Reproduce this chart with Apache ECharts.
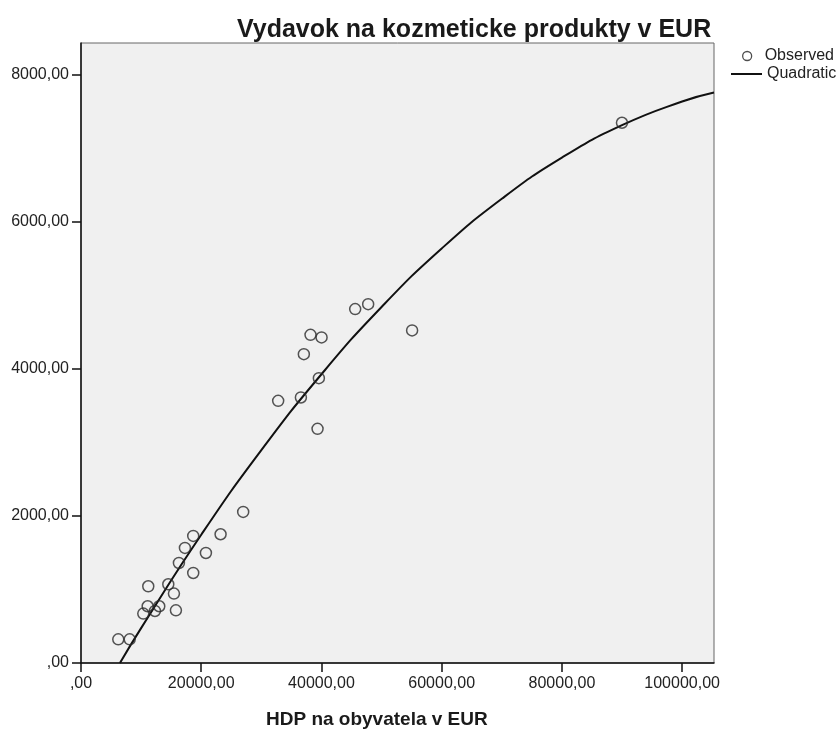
<!DOCTYPE html>
<html>

<head>
	<meta charset="UTF-8">
	<script src="https://cdn.jsdelivr.net/npm/echarts@6/dist/echarts.min.js"></script>
	<style>
		body {
			margin: 0;
			padding: 0;
			background: #ffffff;
		}

		#chart {
			width: 840px;
			height: 729px;
		}
	</style>
</head>

<body>
	<div id="chart"></div>
	<script>
		// 观测值 (HDP na obyvatela, Vydavok)
		var hdp = [6200, 8100, 11190, 11090, 10360, 12300, 13020, 15790, 15460, 14520,
			16290, 17290, 18670, 18670, 20780, 23220, 26980, 32800, 36580, 37070,
			38180, 40020, 39570, 39350, 45610, 47770, 55080, 89990];
		var vydavok = [322, 322, 1044, 772, 672, 708, 772, 717, 945, 1071,
			1361, 1566, 1729, 1225, 1497, 1752, 2056, 3567, 3613, 4202,
			4465, 4430, 3876, 3186, 4815, 4883, 4525, 7351];
		// Quadratic 曲线 (从图上读的点)
		var curveX = [6480, 10000, 20000, 30000, 40000, 50000, 60000, 70000, 80000, 90000, 100000, 105300];
		var curveY = [0, 475, 1745, 2896, 3929, 4844, 5640, 6317, 6877, 7318, 7640, 7763];
		var xTicks = [0, 20000, 40000, 60000, 80000, 100000];
		var yTicks = [0, 2000, 4000, 6000, 8000];

		function fmt(v) {
			return v === 0 ? ',00' : v + ',00';
		}

		var chart = echarts.init(document.getElementById('chart'));
		var font = '"Liberation Sans", Arial, sans-serif';

		chart.setOption({
			animation: false,
			backgroundColor: '#ffffff',
			title: [{
				text: 'Vydavok na kozmeticke produkty v EUR',
				left: 232,
				top: 13,
				textStyle: { fontFamily: font, fontSize: 25, fontWeight: 'bold', color: '#1a1a1a' }
			}, {
				text: 'HDP na obyvatela v EUR',
				left: 261,
				top: 705,
				textStyle: { fontFamily: font, fontSize: 19, fontWeight: 'bold', color: '#1a1a1a' }
			}],
			legend: [{
				data: [{ name: 'Observed', icon: 'circle' }],
				left: 737,
				top: 43,
				itemWidth: 25,
				itemHeight: 9,
				itemStyle: { color: 'rgba(0,0,0,0)', borderColor: '#222', borderWidth: 1.3 },
				textStyle: { fontFamily: font, fontSize: 16, color: '#222' }
			}, {
				data: [{ name: 'Quadratic', icon: 'rect' }],
				left: 726,
				top: 61,
				itemWidth: 31,
				itemHeight: 2,
				itemStyle: { color: '#111', borderWidth: 0 },
				textStyle: { fontFamily: font, fontSize: 16, color: '#222' }
			}],
			grid: {
				left: 81,
				top: 43,
				right: 126,
				bottom: 66,
				show: true,
				backgroundColor: '#f0f0f0',
				borderColor: '#666',
				borderWidth: 1
			},
			xAxis: {
				type: 'value',
				min: 0,
				max: 105300,
				interval: 20000,
				splitLine: { show: false },
				axisLine: { lineStyle: { color: '#111', width: 1.5 } },
				axisTick: { length: 9, customValues: xTicks, lineStyle: { color: '#111', width: 1.5 } },
				axisLabel: {
					customValues: xTicks,
					formatter: fmt,
					margin: 13,
					fontFamily: font,
					fontSize: 16,
					color: '#222'
				}
			},
			yAxis: {
				type: 'value',
				min: 0,
				max: 8436,
				interval: 2000,
				splitLine: { show: false },
				axisLine: { lineStyle: { color: '#111', width: 1.5 } },
				axisTick: { length: 9, customValues: yTicks, lineStyle: { color: '#111', width: 1.5 } },
				axisLabel: {
					customValues: yTicks,
					formatter: fmt,
					margin: 12,
					fontFamily: font,
					fontSize: 16,
					color: '#222'
				}
			},
			series: [{
				name: 'Observed',
				type: 'scatter',
				symbol: 'circle',
				symbolSize: 11,
				itemStyle: { color: 'rgba(0,0,0,0)', borderColor: '#2a2a2a', borderWidth: 1.5 },
				data: hdp.map(function (x, i) { return [x, vydavok[i]]; }),
				z: 3
			}, {
				name: 'Quadratic',
				type: 'line',
				smooth: true,
				showSymbol: false,
				lineStyle: { color: '#111', width: 2 },
				data: curveX.map(function (x, i) { return [x, curveY[i]]; }),
				z: 2
			}]
		});
	</script>
</body>

</html>
